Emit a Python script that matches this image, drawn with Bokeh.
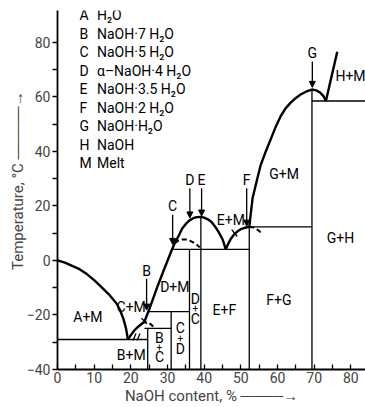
import math
from bokeh.plotting import figure
from bokeh.models import Range1d, FixedTicker, ColumnDataSource, Arrow, NormalHead
from bokeh.core.properties import value
from bokeh.embed import file_html
from bokeh.resources import INLINE

FONT = "Roboto"

# ---------------- data (NaOH content %, temperature degC) ----------------
comp_x = [24.6, 31.0, 36.0, 39.1, 52.3, 69.4]
comp_top = [-24.9, -18.8, 4.1, 15.9, 12.3, 62.7]

inv_t = [-29.0, -24.9, -18.8, 4.1, 12.3, 58.5]
inv_x0 = [0.0, 23.7, 24.8, 31.0, 52.3, 69.4]
inv_x1 = [24.6, 31.0, 36.0, 52.3, 69.4, 84.0]

ice_x = [0, 2, 4, 6, 8, 10, 12, 14, 16, 17, 18, 18.7, 19.2]
ice_t = [0, -0.8, -2.0, -3.2, -5.0, -7.2, -9.8, -12.4, -15.6, -18.0, -21.5, -25.0, -29.0]
b_x = [19.2, 20.0, 21.0, 22.0, 23.0, 23.7]
b_t = [-29.0, -27.4, -25.6, -24.3, -23.2, -22.5]
b_meta_x = [23.0, 24.0, 25.0, 25.8, 26.5]
b_meta_t = [-23.0, -22.6, -23.0, -23.8, -24.9]
c_x = [23.7, 25.0, 27.0, 29.0, 31.0, 32.0]
c_t = [-22.5, -18.0, -10.5, -3.5, 3.3, 6.5]
e_x = [32.0, 33.0, 34.0, 35.0, 36.0, 37.0, 38.0, 39.1, 40.0, 41.0, 42.0, 43.0, 44.0, 45.0, 45.9]
e_t = [6.5, 8.9, 11.7, 13.4, 14.7, 15.5, 15.9, 16.0, 15.7, 15.1, 14.1, 12.4, 10.3, 7.8, 4.1]
d_meta_x = [32.0, 33.0, 34.0, 35.0, 36.0, 37.0, 38.0, 38.8]
d_meta_t = [6.3, 7.3, 7.7, 7.7, 7.3, 6.6, 5.8, 4.8]
f_x = [45.9, 46.5, 47.3, 48.2, 49.1, 50.2, 51.4, 52.3]
f_t = [4.1, 6.0, 8.0, 9.6, 10.7, 11.6, 12.1, 12.3]
f_meta_x = [52.3, 53.3, 54.2, 55.0, 55.8]
f_meta_t = [12.3, 12.2, 11.6, 10.8, 9.8]
g_x = [52.3, 52.7, 53.2, 54.3, 55.4, 56.8, 58.2, 59.5, 60.9, 62.2, 63.6, 65.0, 66.3, 67.9, 69.4, 70.6, 71.7, 72.6, 73.2]
g_t = [12.3, 17.0, 22.8, 29.0, 34.9, 40.0, 44.6, 49.0, 53.0, 55.8, 57.9, 59.6, 60.9, 62.0, 62.7, 62.4, 61.5, 60.2, 58.5]
h_x = [73.2, 76.3]
h_t = [58.5, 76.6]

arrow_lab = ["B", "C", "D", "E", "F", "G"]
arrow_x = [24.3, 31.4, 36.1, 39.3, 51.6, 69.5]
arrow_tip = [-18.2, 5.9, 15.6, 16.3, 12.6, 63.5]
arrow_lab_y = [-3.7, 19.8, 29.5, 29.5, 29.5, 76.0]

reg_text = ["A+M", "C+M", "B+M", "D+M", "E+F", "E+M", "F+G", "G+H", "G+M", "H+M"]
reg_x = [8.3, 20.1, 20.1, 32.0, 45.5, 47.3, 60.4, 77.2, 61.8, 79.9]
reg_y = [-20.6, -17.0, -34.5, -9.8, -18.2, 15.0, -14.6, 8.3, 31.9, 67.5]

# narrow fields: phases written one above the other
stack_text = ["B", "C", "C", "D", "D", "C"]
stack_x = [27.8, 27.8, 33.5, 33.5, 37.6, 37.6]
stack_y = [-28.3, -35.4, -24.7, -32.3, -14.0, -21.5]
plus_x = [27.8, 33.5, 37.6]
plus_y = [-31.7, -28.3, -17.6]

key_letters = ["A", "B", "C", "D", "E", "F", "G", "H", "M"]
key_text = ["H\u2082O", "NaOH\u00b77 H\u2082O", "NaOH\u00b75 H\u2082O", "\u03b1\u2013NaOH\u00b74 H\u2082O",
            "NaOH\u00b73.5 H\u2082O", "NaOH\u00b72 H\u2082O", "NaOH\u00b7H\u2082O", "NaOH", "Melt"]

x_ticks = [0, 10, 20, 30, 40, 50, 60, 70, 80]
x_minor = [5, 15, 25, 35, 45, 55, 65, 75]
y_ticks = [-40, -20, 0, 20, 40, 60, 80]
y_minor = [-30, -10, 10, 30, 50, 70]

x_title = "NaOH content, %"
y_title = "Temperature, \u00b0C"
NB = "\u00a0"
LONG_ARROW_X = "\u2500" * 4 + "\u2192"
LONG_ARROW_Y = "\u2500" * 5 + "\u2192"

p = figure(width=365, height=407, x_range=Range1d(0, 84), y_range=Range1d(-40, 91.7),
           output_backend="svg", toolbar_location=None,
           min_border_left=57, min_border_right=0, min_border_top=10, min_border_bottom=34)
p.grid.visible = False
p.outline_line_color = None

xa = p.xaxis[0]
xa.ticker = FixedTicker(ticks=x_ticks, minor_ticks=x_minor)
xa.major_tick_in = 5
xa.major_tick_out = 0
xa.minor_tick_in = 5
xa.minor_tick_out = 0
xa.axis_line_width = 1.8
xa.major_tick_line_width = 1.3
xa.minor_tick_line_width = 1.3
xa.major_label_text_font = FONT
xa.major_label_text_font_size = "14px"
xa.major_label_standoff = 2
xa.axis_label = x_title + NB + LONG_ARROW_X
xa.axis_label_text_font = FONT
xa.axis_label_text_font_size = "15px"
xa.axis_label_text_font_style = "normal"
xa.axis_label_standoff = 1

ya = p.yaxis[0]
ya.ticker = FixedTicker(ticks=y_ticks, minor_ticks=y_minor)
ya.major_tick_in = 0
ya.major_tick_out = 5
ya.minor_tick_in = 0
ya.minor_tick_out = 5
ya.axis_line_width = 1.8
ya.major_tick_line_width = 1.3
ya.minor_tick_line_width = 1.3
ya.major_label_text_font = FONT
ya.major_label_text_font_size = "14px"
ya.major_label_standoff = 2
ya.axis_label = NB * 5 + y_title + NB + LONG_ARROW_Y
ya.axis_label_text_font = FONT
ya.axis_label_text_font_size = "15px"
ya.axis_label_text_font_style = "normal"
ya.axis_label_standoff = -3

THIN = 1.3
THICK = 2.4

p.segment(x0=comp_x, y0=[-40] * len(comp_x), x1=comp_x, y1=comp_top, line_color="black", line_width=THIN)
p.segment(x0=inv_x0, y0=inv_t, x1=inv_x1, y1=inv_t, line_color="black", line_width=THIN)

for xs, ts in [(ice_x, ice_t), (b_x, b_t), (c_x, c_t), (e_x, e_t), (f_x, f_t), (g_x, g_t), (h_x, h_t)]:
    p.line(xs, ts, line_color="black", line_width=THICK, line_join="round")
for xs, ts in [(b_meta_x, b_meta_t), (d_meta_x, d_meta_t), (f_meta_x, f_meta_t)]:
    p.line(xs, ts, line_color="black", line_width=2.0, line_dash="5 3")

p.segment(x0=[22.9, 20.6, 21.7, 47.5], y0=[-21.2, -29.4, -29.4, 11.3],
          x1=[24.4, 21.4, 22.5, 49.0], y1=[-23.2, -26.8, -26.8, 8.8],
          line_color="black", line_width=THIN)

asrc = ColumnDataSource(dict(x0=arrow_x, y0=[v - 3.0 for v in arrow_lab_y], x1=arrow_x, y1=arrow_tip))
p.add_layout(Arrow(x_start="x0", y_start="y0", x_end="x1", y_end="y1", source=asrc,
                   line_width=1.3, end=NormalHead(size=6, fill_color="black", line_color="black", line_width=1)))
p.text(x=arrow_x, y=arrow_lab_y, text=arrow_lab, text_font=value(FONT), text_font_size="14px",
       text_align="center", text_baseline="middle", text_color="black")

p.text(x=reg_x, y=reg_y, text=reg_text, text_font=value(FONT), text_font_size="14px",
       text_align="center", text_baseline="middle", text_color="black")
p.text(x=stack_x, y=stack_y, text=stack_text, text_font=value(FONT), text_font_size="14px",
       text_align="center", text_baseline="middle", text_color="black")
p.text(x=plus_x, y=plus_y, text=["+"] * len(plus_x), text_font=value(FONT), text_font_size="10px",
       text_align="center", text_baseline="middle", text_color="black")

def dx(px):
    return (px - 57) / 3.667

def dy(py):
    return (263 - py) / 2.756

key_y = [dy(15 + 18.68 * i) for i in range(len(key_letters))]
p.text(x=[dx(79)] * len(key_letters), y=key_y, text=key_letters, text_font=value(FONT),
       text_font_size="14px", text_align="left", text_baseline="middle", text_color="black")
p.text(x=[dx(96.5)] * len(key_text), y=key_y, text=key_text, text_font=value(FONT),
       text_font_size="14px", text_align="left", text_baseline="middle", text_color="black")

open("out.html", "w").write(file_html(p, INLINE))
